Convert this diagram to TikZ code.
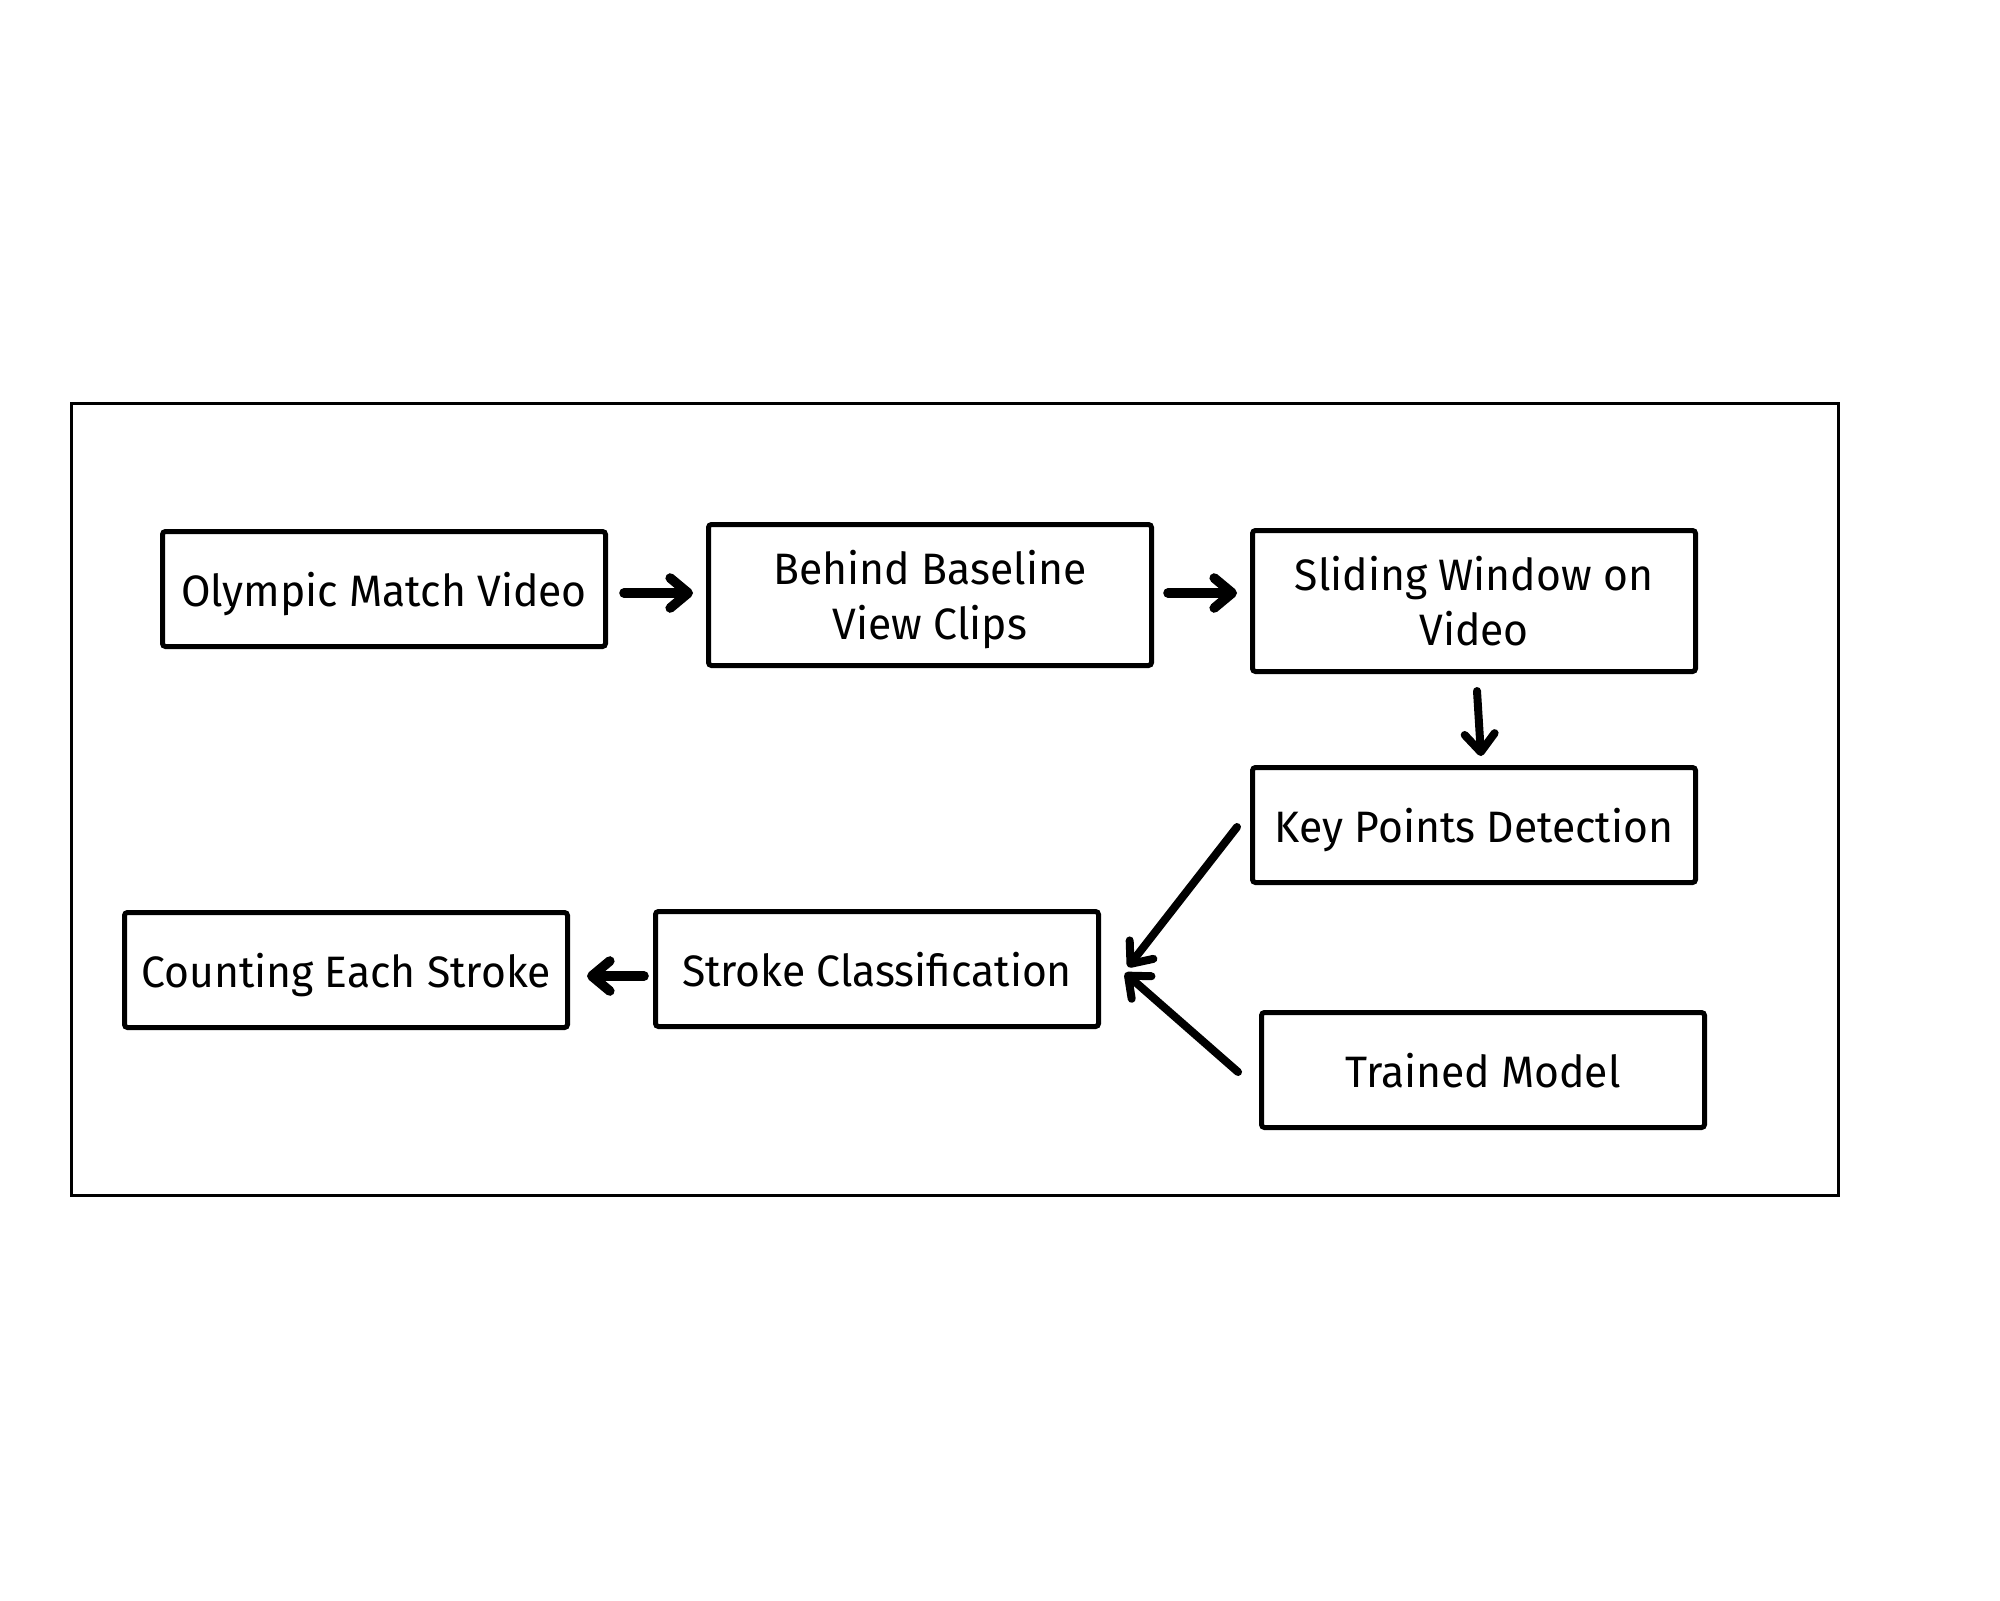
\documentclass[tikz,border=0pt]{standalone}
\usepackage{fontspec}
\setmainfont{Fira Sans}[FakeStretch=0.97]
\usetikzlibrary{arrows.meta,calc}
\tikzset{
  box/.style={draw=black, line width=2.5pt, rounded corners=1.5pt, inner sep=0pt,
    minimum width=221.5pt, minimum height=57.5pt, align=center, text depth=0pt,
    font=\fontsize{22}{27.5}\selectfont},
  tallbox/.style={box, minimum height=70.5pt},
  arr/.style={line width=4pt, line cap=round,
    -{Straight Barb[round, length=9pt, width=15pt]}},
  thickarr/.style={arr, line width=4.8pt},
  frame/.style={draw=black, line width=1.5pt}
}
\begin{document}
\begin{tikzpicture}[x=0.5pt, y=-0.5pt]
  \useasboundingbox (0,0) rectangle (2000,1600);
  \fill[white] (0,0) rectangle (2000,1600);
  \draw[frame] (71,403) rectangle (1838,1195);

  \node[box]     (ov) at (384,589)  {Olympic Match Video};
  \node[tallbox] (bb) at (930,595)  {Behind Baseline\\View Clips};
  \node[tallbox] (sw) at (1474,601) {Sliding Window on\\Video};
  \node[box]     (kp) at (1474,825) {Key Points Detection};
  \node[box]     (sc) at (877,969)  {Stroke Classification};
  \node[box]     (ce) at (346,970)  {Counting Each Stroke};
  \node[box]     (tm) at (1483,1070) {Trained Model};

  \draw[thickarr] ($(ov.east)+(16,4)$) -- ($(bb.west)+(-13,-2)$);
  \draw[thickarr] ($(bb.east)+(14,-2)$) -- ($(sw.west)+(-13,-8)$);
  \draw[arr] ($(sw.south)+(3,17)$) -- ($(kp.north)+(7,-9)$);
  \draw[thickarr] ($(sc.west)+(-9,7)$) -- ($(ce.east)+(17,6)$);
  \draw[arr] ($(kp.west)+(-13,2)$) -- ($(sc.east)+(27,-2)$);
  \draw[arr] ($(tm.west)+(-21,2)$) -- ($(sc.east)+(24,4)$);
\end{tikzpicture}
\end{document}
